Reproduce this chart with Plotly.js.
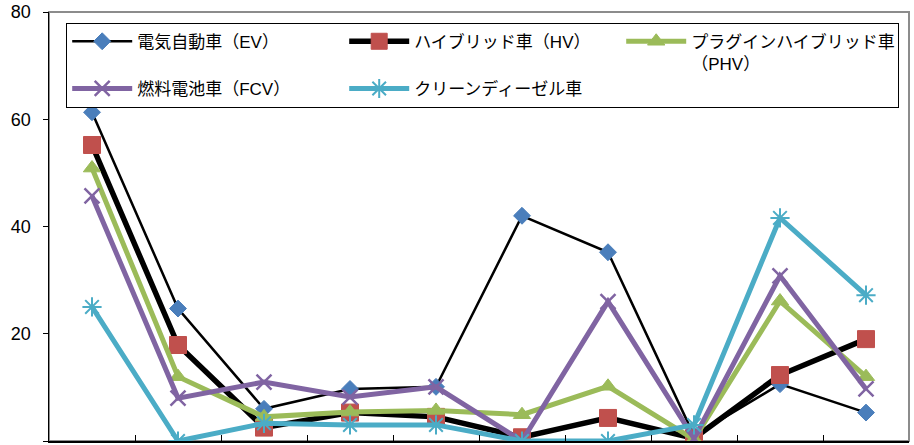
<!DOCTYPE html>
<html>
<head>
<meta charset="utf-8">
<script src="https://cdn.plot.ly/plotly-3.0.1.min.js"></script>
<style>html,body{margin:0;padding:0;background:#fff;}#chart{width:914px;height:445px;}</style>
</head>
<body>
<div id="chart"></div>
<script>
const categories = ['1','2','3','4','5','6','7','8','9','10'];
const seriesNames = ['電気自動車（EV）','ハイブリッド車（HV）','プラグインハイブリッド車<br>（PHV）','燃料電池車（FCV）','クリーンディーゼル車'];
const evValues     = [61.3, 24.7, 6.0, 9.7, 10.1, 42.0, 35.2, 1.0, 10.6, 5.3];
const hvValues     = [55.2, 17.9, 2.5, 5.3, 4.5, 0.7, 4.3, 0.5, 12.3, 19.0];
const phvValues    = [50.9, 12.0, 4.5, 5.4, 5.7, 4.9, 10.2, 0.3, 26.1, 12.0];
const fcvValues    = [45.7, 8.0, 11.0, 8.2, 10.1, 0.0, 26.0, 0.5, 30.8, 9.7];
const dieselValues = [25.0, 0.0, 3.3, 3.0, 3.0, 0.0, 0.0, 3.0, 41.6, 27.2];
const yTicks = [0, 20, 40, 60, 80];

const traces = [
  {x: categories, y: evValues, name: seriesNames[0], mode: 'lines+markers',
   line: {color: '#000000', width: 2.5},
   marker: {symbol: 'diamond', size: 13, color: '#4A7EBB', line: {color: '#4A7EBB', width: 1}}},
  {x: categories, y: hvValues, name: seriesNames[1], mode: 'lines+markers',
   line: {color: '#000000', width: 5.5},
   marker: {symbol: 'square', size: 17, color: '#C0504D', line: {color: '#C0504D', width: 1}}},
  {x: categories, y: phvValues, name: seriesNames[2], mode: 'lines+markers',
   line: {color: '#9BBB59', width: 5},
   marker: {symbol: 'triangle-up', size: 15, color: '#9BBB59', line: {color: '#9BBB59', width: 1}}},
  {x: categories, y: fcvValues, name: seriesNames[3], mode: 'lines+markers',
   line: {color: '#8064A2', width: 5},
   marker: {symbol: 'x-thin-open', size: 15, color: '#8064A2', line: {color: '#8064A2', width: 2.5}}},
  {x: categories, y: dieselValues, name: seriesNames[4], mode: 'lines+markers',
   line: {color: '#4BACC6', width: 5},
   marker: {symbol: 'asterisk-open', size: 16, color: '#4BACC6', line: {color: '#4BACC6', width: 2}}}
];

const layout = {
  width: 914, height: 445,
  margin: {l: 49, r: 5, t: 12, b: 4},
  paper_bgcolor: '#ffffff', plot_bgcolor: '#ffffff',
  font: {family: 'Liberation Sans, Arial, "Noto Sans CJK JP", sans-serif', color: '#000000'},
  showlegend: true,
  legend: {
    orientation: 'h', x: 0.02, y: 0.975, xanchor: 'left', yanchor: 'top',
    bgcolor: '#ffffff', bordercolor: '#000000', borderwidth: 1,
    entrywidth: 202, entrywidthmode: 'pixels', itemwidth: 60, valign: 'top',
    font: {size: 17, family: 'Liberation Sans, Arial, "Noto Sans CJK JP", sans-serif'},
    traceorder: 'normal'
  },
  xaxis: {
    type: 'category', range: [-0.5, 9.5], showticklabels: false,
    tickson: 'boundaries', ticks: 'inside', ticklen: 6, tickcolor: '#000', tickwidth: 1,
    showline: true, linecolor: '#000000', linewidth: 1.5, showgrid: false, zeroline: false,
    fixedrange: true
  },
  yaxis: {
    range: [0, 80], tickvals: yTicks, ticktext: yTicks.map(String),
    ticks: 'outside', ticklen: 5, tickcolor: '#000', ticklabelstandoff: 8,
    showline: true, linecolor: '#000000', linewidth: 1.5, showgrid: false, zeroline: false,
    tickfont: {size: 18, family: 'Liberation Sans, Arial, sans-serif'}
  },
  shapes: [{type: 'rect', xref: 'paper', yref: 'paper', x0: 0, x1: 1, y0: 0, y1: 1,
            line: {color: '#8c8c8c', width: 2}, layer: 'below'}]
};

Plotly.newPlot('chart', traces, layout, {displayModeBar: false, staticPlot: true});
</script>
</body>
</html>
